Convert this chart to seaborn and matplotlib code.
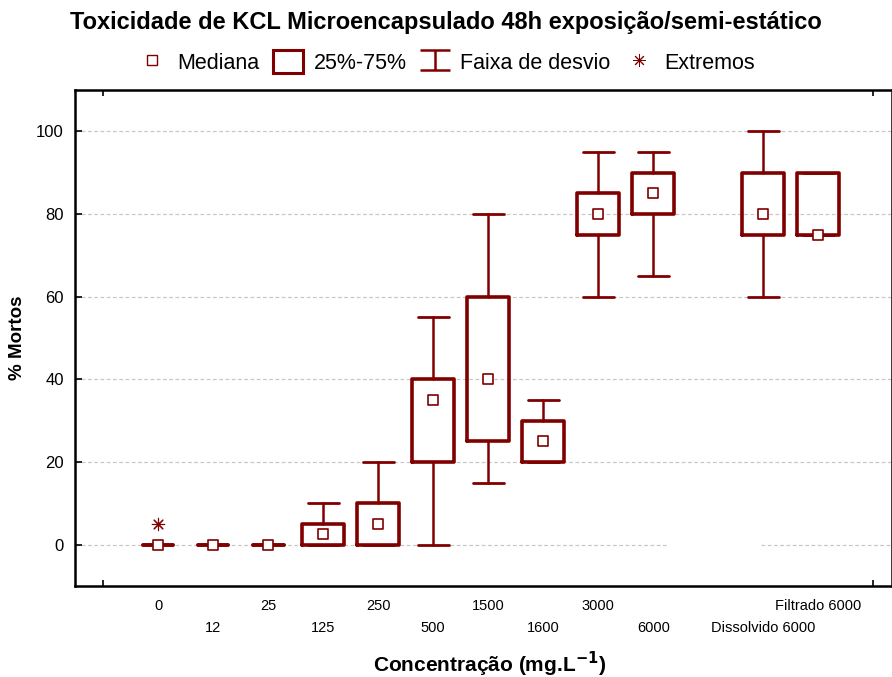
import matplotlib
matplotlib.use("Agg")
import matplotlib.pyplot as plt
import seaborn as sns
import numpy as np
import pandas as pd
from matplotlib.lines import Line2D
from matplotlib.patches import Patch
from matplotlib.path import Path

# ---- data ----
categories = ["0", "12", "25", "125", "250", "500", "1500", "1600", "3000", "6000", "",
              "Dissolvido 6000", "Filtrado 6000"]
medians = [0, 0, 0, 2.5, 5, 35, 40, 25, 80, 85, None, 80, 75]
q1 = [0, 0, 0, 0, 0, 20, 25, 20, 75, 80, None, 75, 75]
q3 = [0, 0, 0, 5, 10, 40, 60, 30, 85, 90, None, 90, 90]
whis_lo = [0, 0, 0, 0, 0, 0, 15, 20, 60, 65, None, 60, 75]
whis_hi = [0, 0, 0, 10, 20, 55, 80, 35, 95, 95, None, 100, 90]
extreme_cat = ["0"]
extreme_val = [5]

RED = "#800000"

sns.set_theme(style="white")
plt.rcParams['font.family'] = ['Liberation Sans', 'DejaVu Sans']
plt.rcParams['text.color'] = 'black'
plt.rcParams['axes.labelcolor'] = 'black'
plt.rcParams['xtick.color'] = 'black'
plt.rcParams['ytick.color'] = 'black'

fig = plt.figure(figsize=(8.92, 6.77), dpi=100)
ax = fig.add_axes([75/892, 91/677, 1.0 - 75/892, (586-90)/677])

pos = {c: i for i, c in enumerate(categories)}
stats, positions = [], []
for i, c in enumerate(categories):
    if medians[i] is None:
        continue
    stats.append(dict(med=medians[i], q1=q1[i], q3=q3[i], whislo=whis_lo[i],
                      whishi=whis_hi[i], fliers=[], label=c))
    positions.append(i)

res = ax.bxp(stats, positions=positions, widths=0.76, showfliers=False,
             boxprops=dict(color=RED, linewidth=2.6),
             whiskerprops=dict(color=RED, linewidth=1.8),
             capprops=dict(color=RED, linewidth=2.0),
             medianprops=dict(visible=False), capwidths=0.56, zorder=3)
for b, s in zip(res['boxes'], stats):
    if s['q3'] - s['q1'] <= 0:
        b.set_visible(False)
for k, s in enumerate(stats):
    if s['whishi'] == s['whislo']:
        for cp in res['caps'][2*k:2*k+2]:
            cp.set_linewidth(2.6)

med_df = pd.DataFrame({"x": [pos[c] for c, m in zip(categories, medians) if m is not None],
                       "y": [m for m in medians if m is not None]})
sns.scatterplot(data=med_df, x="x", y="y", marker="s", s=50, facecolor="white",
                edgecolor=RED, linewidth=1.2, ax=ax, zorder=5, legend=False)
ext_df = pd.DataFrame({"x": [pos[c] for c in extreme_cat], "y": extreme_val})
sns.scatterplot(data=ext_df, x="x", y="y", marker=(8, 2, 0), s=80, color=RED,
                linewidth=0.8, ax=ax, zorder=5, legend=False)

ax.set_xlim(-1.51, 13.34)
ax.set_ylim(-10, 110)

# grid
for g in [20, 40, 60, 80, 100]:
    ax.axhline(g, color="#c8c8c8", lw=0.9, ls=(0, (3, 2)), zorder=0)
ax.hlines(0, -1.51, 9.27, color="#c8c8c8", lw=0.9, ls=(0, (3, 2)), zorder=0)
ax.hlines(0, 10.95, 13.34, color="#c8c8c8", lw=0.9, ls=(0, (3, 2)), zorder=0)

ax.set_yticks([0, 20, 40, 60, 80, 100])
ax.set_yticklabels(["0", "20", "40", "60", "80", "100"], fontsize=12)
ax.set_xticks(range(-1, 14), minor=True)
ax.set_xticks(range(len(categories)))
ax.set_xticklabels(categories, fontsize=10.5)
ax.tick_params(axis='x', which='major', length=0, colors='black')
for i, t in enumerate(ax.xaxis.get_major_ticks()):
    t.set_pad(9.5 if i % 2 == 0 else 25)
ax.tick_params(axis='x', which='minor', direction='in', length=4, width=1.2,
               top=True, bottom=True, color='black')
ax.tick_params(axis='y', direction='in', length=5, width=1.2, left=True, pad=8, colors='black')
for sp in ax.spines.values():
    sp.set_color('black')
    sp.set_linewidth(1.8)

ax.set_ylabel("% Mortos", fontsize=13.5, fontweight='bold')
ax.yaxis.label.set_va('center')
ax.yaxis.set_label_coords(-(75 - 18) / 817, 0.5)
ax.set_xlabel("Concentração (mg.L$^{\\mathbf{-1}}$)", fontsize=15, fontweight='bold')
ax.xaxis.label.set_va('center')
ax.xaxis.set_label_coords((490 - 75) / 817, -(664 - 586) / 496)

fig.suptitle("Toxicidade de KCL Microencapsulado 48h exposição/semi-estático",
             x=0.5, y=1 - 22/677, va='center', fontsize=17, fontweight='bold')

ivert = Path([(-1, 0.68), (1, 0.68), (0, 0.68), (0, -0.68), (-1, -0.68), (1, -0.68)],
             [Path.MOVETO, Path.LINETO, Path.MOVETO, Path.LINETO, Path.MOVETO, Path.LINETO])
handles = [
    Line2D([], [], ls='none', marker='s', markersize=6.5, markerfacecolor='white',
           markeredgecolor=RED, markeredgewidth=1.0),
    Patch(facecolor='white', edgecolor=RED, linewidth=2.2),
    Line2D([], [], ls='none', marker=ivert, markersize=22, markerfacecolor='none',
           markeredgecolor=RED, markeredgewidth=1.8),
    Line2D([], [], ls='none', marker=(8, 2, 0), markersize=9, color=RED,
           markeredgewidth=0.7),
]
fig.legend(handles, ["Mediana", "25%-75%", "Faixa de desvio", "Extremos"],
           loc='center', bbox_to_anchor=(0.5, 1 - 62/677), ncol=4, frameon=False,
           fontsize=15.5, handlelength=1.4, handleheight=1.25, handletextpad=0.5,
           columnspacing=0.6)

fig.savefig("out.png", dpi=100)
